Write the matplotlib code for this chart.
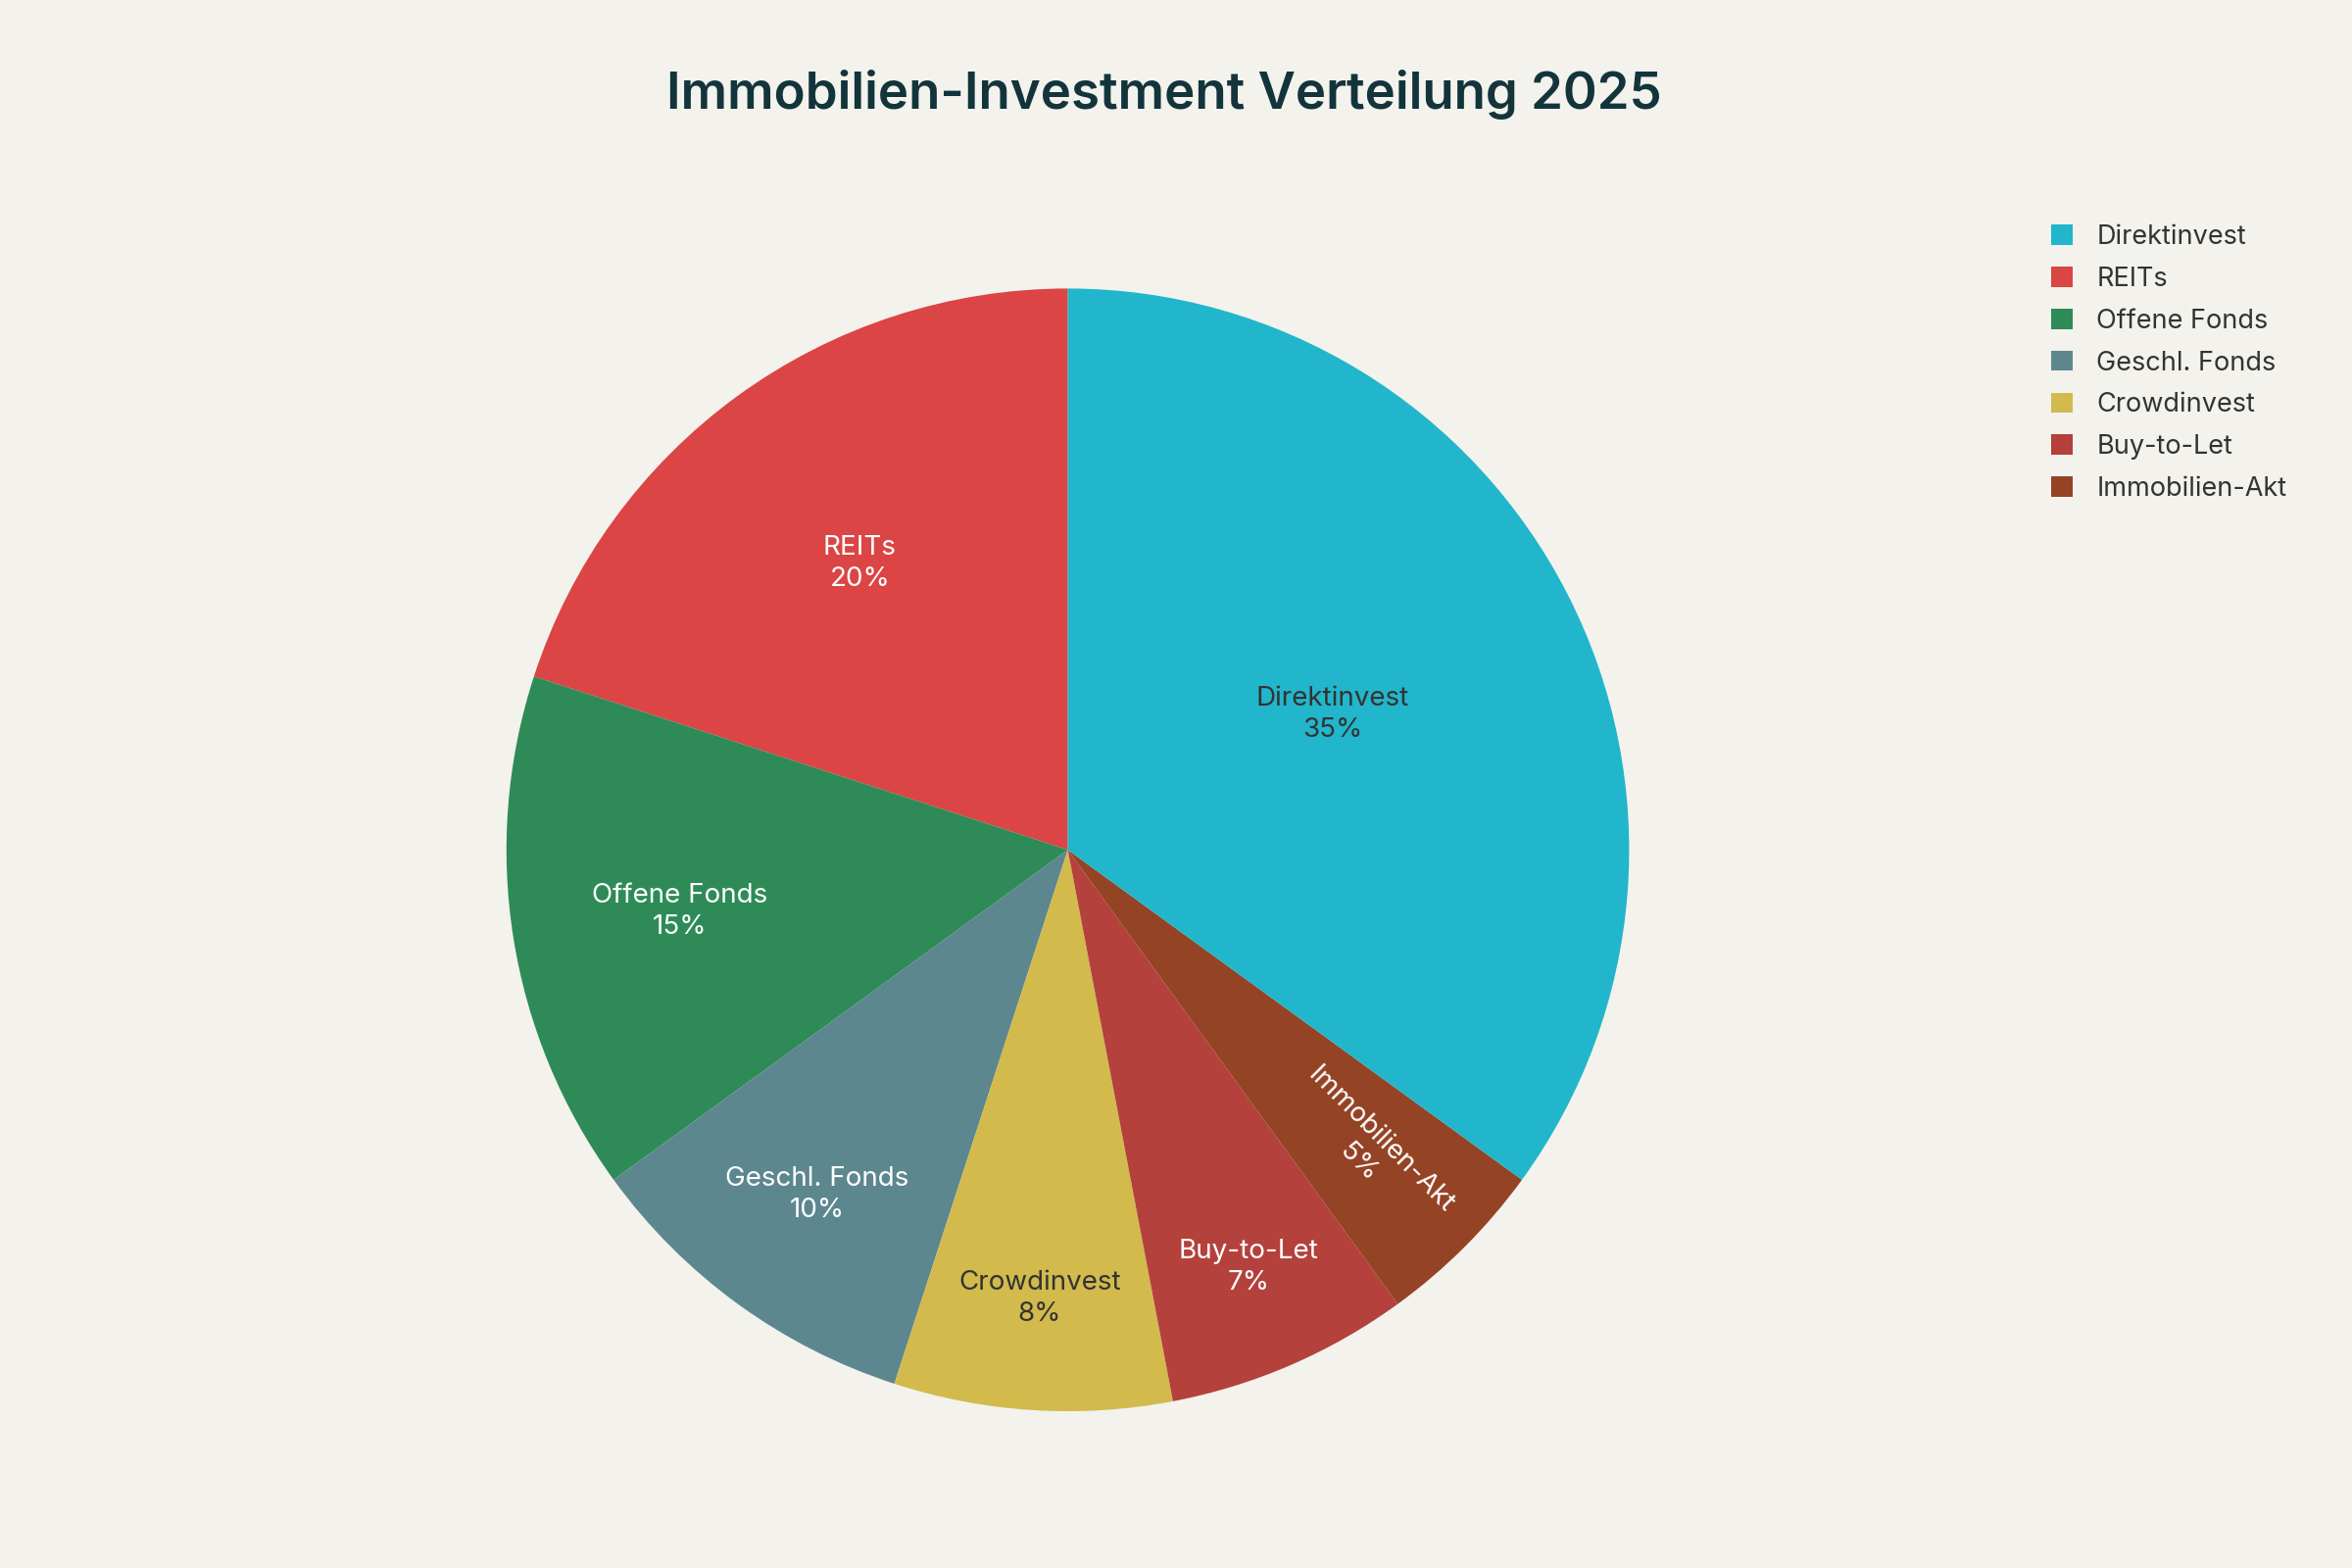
import numpy as np
import matplotlib
matplotlib.use("Agg")
import matplotlib.pyplot as plt
from matplotlib.patches import Patch

categories = ["Direktinvest", "REITs", "Offene Fonds", "Geschl. Fonds", "Crowdinvest", "Buy-to-Let", "Immobilien-Akt"]
values = [35, 20, 15, 10, 8, 7, 5]
colors = ["#21B6CB", "#DB4545", "#2E8B57", "#5D878F", "#D2BA4C", "#B4413C", "#944325"]
text_colors = ["#333333", "white", "white", "white", "#333333", "white", "white"]
label_r = [0.53, 0.63, 0.70, 0.76, 0.80, 0.81, 0.76]
bg = "#F3F2EC"

plt.rcParams["font.family"] = "Inter"
fig = plt.figure(figsize=(24, 16), dpi=100, facecolor=bg)
ax = fig.add_axes([0.454 - 0.358 * 16 / 24, 0.458 - 0.358, 0.716 * 16 / 24, 0.716])
ax.set_facecolor(bg)
# Direktinvest clockwise from top, rest follow counterclockwise from top
order = [1, 2, 3, 4, 5, 6, 0]
wedges_o, _ = ax.pie([values[i] for i in order], colors=[colors[i] for i in order],
                     startangle=90, counterclock=True, wedgeprops=dict(linewidth=0))
wedges = [None] * len(order)
for w, i in zip(wedges_o, order):
    wedges[i] = w
ax.set_aspect("equal")
ax.set_xlim(-1, 1); ax.set_ylim(-1, 1)
ax.axis("off")

for w, c, v, tc, r in zip(wedges, categories, values, text_colors, label_r):
    mid = (w.theta1 + w.theta2) / 2
    ang = np.deg2rad(mid)
    x, y = r * np.cos(ang), r * np.sin(ang)
    rot = 0
    if c == "Immobilien-Akt":
        rot = ((mid + 90) % 180) - 90
    ax.text(x, y, f"{c}\n{v}%", ha="center", va="center", color=tc,
            fontsize=20, rotation=rot, rotation_mode="anchor", linespacing=1.3)

fig.text(0.495, 0.94, "Immobilien-Investment Verteilung 2025", ha="center", va="center",
         fontsize=38, fontweight="semibold", color="#13343B")

handles = [Patch(facecolor=c, edgecolor="none") for c in colors]
fig.legend(handles, categories, loc="upper left", bbox_to_anchor=(0.862, 0.872),
           frameon=False, fontsize=19.5, handlelength=0.8, handleheight=0.8,
           handletextpad=0.9, labelspacing=0.62, labelcolor="#333333")

fig.savefig("out.png", dpi=100, facecolor=bg)
